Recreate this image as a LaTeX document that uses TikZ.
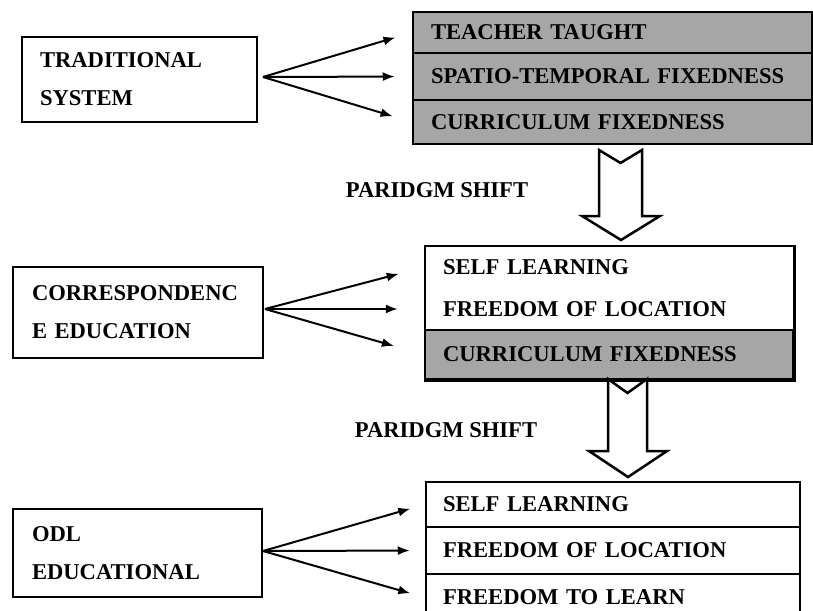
\documentclass[tikz,border=0pt]{standalone}
\usepackage{fontspec}
\setmainfont{Liberation Serif}
\usepackage{tikz}
\usetikzlibrary{arrows.meta}
\definecolor{rowgray}{RGB}{166,166,166}

\tikzset{
  every node/.style = {font=\fontsize{22.6}{38}\selectfont\bfseries},
  leftbox/.style = {draw, line width=2.5pt, align=left, inner xsep=18pt},
  rowbox/.style = {draw, line width=2.5pt, align=left, inner xsep=18pt},
  greyrow/.style = {rowbox, fill=rowgray},
  fan/.style = {line width=2pt, -{Latex[length=12pt,width=9pt]}},
  shiftarrow/.style = {draw, line width=2.5pt, fill=white, line join=miter}
}

\begin{document}
\begin{tikzpicture}[x=1pt, y=-1pt]
  \useasboundingbox (0,0) rectangle (813,610);

  % traditional system
  \node [leftbox, minimum width=235pt, minimum height=85pt, text width=199pt] (trad) at (139.5,79.5) {TRADITIONAL\\SYSTEM};
  \node [greyrow, minimum width=399pt, minimum height=41pt, text width=363pt] (tt) at (612.5,32.5) {TEACHER TAUGHT};
  \node [greyrow, minimum width=399pt, minimum height=47pt, text width=363pt] (stf) at (612.5,76.5) {SPATIO-TEMPORAL FIXEDNESS};
  \node [greyrow, minimum width=399pt, minimum height=44pt, text width=363pt] (cf1) at (612.5,122) {CURRICULUM FIXEDNESS};
  \coordinate (tradout) at (263,77);
  \draw [fan, shorten >=17pt] (tradout) -- (tt.west);
  \draw [fan, shorten >=17pt] (tradout) -- (stf.west);
  \draw [fan, shorten >=20pt] (tradout) -- (cf1.west);

  \node (shift1) at (437,190) {PARIDGM SHIFT};
  \draw [shiftarrow] (599,150) -- (620.5,163) -- (642,150) -- (642,216) -- (660,216) -- (621,240) -- (582,216) -- (599,216) -- cycle;

  % correspondence education
  \node [leftbox, minimum width=250pt, minimum height=91pt, text width=212pt, inner xsep=19pt] (corr) at (138,312.5) {CORRESPONDENC\\E EDUCATION};
  \node [minimum width=368pt, minimum height=42pt, text width=332pt, align=left, inner xsep=18pt] (sl2) at (609,267) {SELF LEARNING};
  \node [minimum width=368pt, minimum height=42pt, text width=332pt, align=left, inner xsep=18pt] (fl2) at (609,309) {FREEDOM OF LOCATION};
  \node [greyrow, minimum width=368pt, minimum height=49pt, text width=332pt] (cf2) at (609,354.5) {CURRICULUM FIXEDNESS};
  \draw [line width=2.5pt] (sl2.north west) rectangle (cf2.south east);
  \coordinate (corrout) at (265,309);
  \draw [fan, shorten >=27pt] (corrout) -- (sl2.west);
  \draw [fan, shorten >=27pt] (corrout) -- (fl2.west);
  \draw [fan, shorten >=31pt] (corrout) -- (cf2.west);

  \node (shift2) at (446,430) {PARIDGM SHIFT};
  \draw [shiftarrow] (608,379) -- (627.5,393) -- (647,379) -- (647,451) -- (667,451) -- (628,477) -- (589,451) -- (608,451) -- cycle;

  % odl educational
  \node [leftbox, minimum width=249pt, minimum height=88pt, text width=211pt, inner xsep=19pt] (odl) at (137.5,553) {ODL\\EDUCATIONAL};
  \node [rowbox, minimum width=374pt, minimum height=45pt, text width=340pt, inner xsep=17pt] (sl3) at (613,504.5) {SELF LEARNING};
  \node [rowbox, minimum width=374pt, minimum height=47pt, text width=340pt, inner xsep=17pt] (fl3) at (613,550.5) {FREEDOM OF LOCATION};
  \node [rowbox, minimum width=374pt, minimum height=47pt, text width=340pt, inner xsep=17pt] (ftl) at (613,597.5) {FREEDOM TO LEARN};
  \coordinate (odlout) at (263,551);
  \draw [fan, shorten >=15pt] (odlout) -- (sl3.west);
  \draw [fan, shorten >=15pt] (odlout) -- (fl3.west);
  \draw [fan, shorten >=15pt] (odlout) -- (ftl.west);
\end{tikzpicture}
\end{document}
